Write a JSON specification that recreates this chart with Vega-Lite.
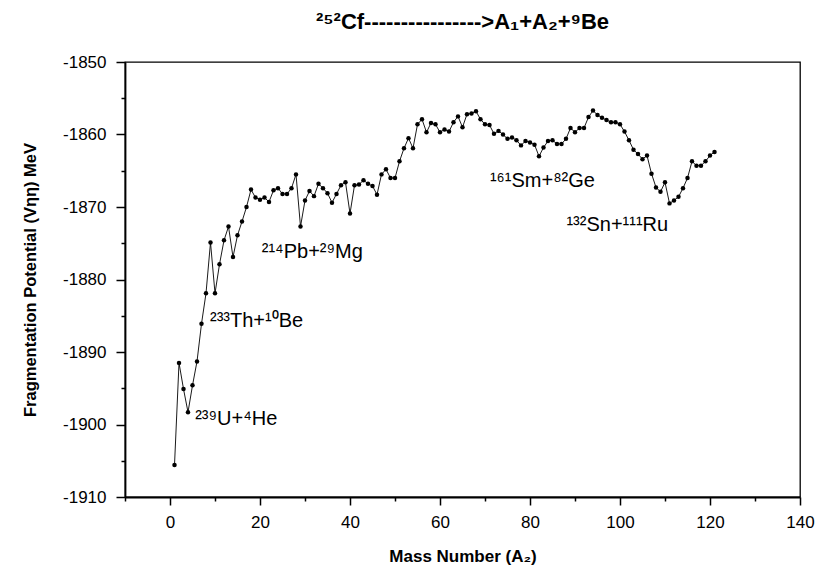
{
  "$schema": "https://vega.github.io/schema/vega-lite/v6.json",
  "autosize": {"type": "none"},
  "padding": {"left": 125, "top": 62, "right": 23, "bottom": 83},
  "width": 675,
  "height": 435,
  "title": {
    "text": "²⁵²Cf---------------->A₁+A₂+⁹Be",
    "fontSize": 22,
    "fontWeight": "bold",
    "anchor": "middle",
    "offset": 19,
    "color": "black"
  },
  "datasets": {
    "potential": [
      {"A": 1, "V": -1905.6}, {"A": 2, "V": -1891.5}, {"A": 3, "V": -1895.1}, {"A": 4, "V": -1898.3},
      {"A": 5, "V": -1894.6}, {"A": 6, "V": -1891.3}, {"A": 7, "V": -1886.1}, {"A": 8, "V": -1881.9},
      {"A": 9, "V": -1874.9}, {"A": 10, "V": -1881.9}, {"A": 11, "V": -1877.9}, {"A": 12, "V": -1874.6},
      {"A": 13, "V": -1872.7}, {"A": 14, "V": -1876.9}, {"A": 15, "V": -1873.9}, {"A": 16, "V": -1872.0},
      {"A": 17, "V": -1870.0}, {"A": 18, "V": -1867.6}, {"A": 19, "V": -1868.7}, {"A": 20, "V": -1869.0},
      {"A": 21, "V": -1868.7}, {"A": 22, "V": -1869.3}, {"A": 23, "V": -1867.7}, {"A": 24, "V": -1867.4},
      {"A": 25, "V": -1868.2}, {"A": 26, "V": -1868.2}, {"A": 27, "V": -1867.4}, {"A": 28, "V": -1865.5},
      {"A": 29, "V": -1872.7}, {"A": 30, "V": -1869.1}, {"A": 31, "V": -1867.8}, {"A": 32, "V": -1868.5},
      {"A": 33, "V": -1866.8}, {"A": 34, "V": -1867.4}, {"A": 35, "V": -1868.1}, {"A": 36, "V": -1869.4},
      {"A": 37, "V": -1868.2}, {"A": 38, "V": -1867.0}, {"A": 39, "V": -1866.6}, {"A": 40, "V": -1870.9},
      {"A": 41, "V": -1867.0}, {"A": 42, "V": -1866.9}, {"A": 43, "V": -1866.3}, {"A": 44, "V": -1866.8},
      {"A": 45, "V": -1867.1}, {"A": 46, "V": -1868.3}, {"A": 47, "V": -1865.5}, {"A": 48, "V": -1864.8},
      {"A": 49, "V": -1866.0}, {"A": 50, "V": -1866.0}, {"A": 51, "V": -1863.7}, {"A": 52, "V": -1861.9},
      {"A": 53, "V": -1860.5}, {"A": 54, "V": -1861.9}, {"A": 55, "V": -1858.6}, {"A": 56, "V": -1857.9},
      {"A": 57, "V": -1859.7}, {"A": 58, "V": -1858.4}, {"A": 59, "V": -1858.6}, {"A": 60, "V": -1859.7},
      {"A": 61, "V": -1859.3}, {"A": 62, "V": -1859.6}, {"A": 63, "V": -1858.3}, {"A": 64, "V": -1857.5},
      {"A": 65, "V": -1859.0}, {"A": 66, "V": -1857.2}, {"A": 67, "V": -1857.1}, {"A": 68, "V": -1856.8},
      {"A": 69, "V": -1857.9}, {"A": 70, "V": -1858.6}, {"A": 71, "V": -1858.7}, {"A": 72, "V": -1859.9},
      {"A": 73, "V": -1859.5}, {"A": 74, "V": -1860.0}, {"A": 75, "V": -1860.6}, {"A": 76, "V": -1860.4},
      {"A": 77, "V": -1860.8}, {"A": 78, "V": -1861.5}, {"A": 79, "V": -1860.9}, {"A": 80, "V": -1861.1},
      {"A": 81, "V": -1861.4}, {"A": 82, "V": -1863.0}, {"A": 83, "V": -1861.8}, {"A": 84, "V": -1860.9},
      {"A": 85, "V": -1860.8}, {"A": 86, "V": -1861.3}, {"A": 87, "V": -1861.3}, {"A": 88, "V": -1860.6},
      {"A": 89, "V": -1859.1}, {"A": 90, "V": -1859.7}, {"A": 91, "V": -1859.1}, {"A": 92, "V": -1859.1},
      {"A": 93, "V": -1857.6}, {"A": 94, "V": -1856.7}, {"A": 95, "V": -1857.3}, {"A": 96, "V": -1857.7},
      {"A": 97, "V": -1858.0}, {"A": 98, "V": -1858.3}, {"A": 99, "V": -1858.3}, {"A": 100, "V": -1858.6},
      {"A": 101, "V": -1859.6}, {"A": 102, "V": -1860.8}, {"A": 103, "V": -1862.1}, {"A": 104, "V": -1862.7},
      {"A": 105, "V": -1863.4}, {"A": 106, "V": -1862.9}, {"A": 107, "V": -1865.4}, {"A": 108, "V": -1867.3},
      {"A": 109, "V": -1867.9}, {"A": 110, "V": -1866.6}, {"A": 111, "V": -1869.5}, {"A": 112, "V": -1869.1},
      {"A": 113, "V": -1868.6}, {"A": 114, "V": -1867.4}, {"A": 115, "V": -1866.0}, {"A": 116, "V": -1863.7},
      {"A": 117, "V": -1864.3}, {"A": 118, "V": -1864.3}, {"A": 119, "V": -1863.7}, {"A": 120, "V": -1862.9},
      {"A": 121, "V": -1862.4}
    ],
    "pairs": [
      {"pair": "²³⁹U+⁴He", "A": 5.6, "V": -1900.1},
      {"pair": "²³³Th+¹⁰Be", "A": 8.9, "V": -1886.5},
      {"pair": "²¹⁴Pb+²⁹Mg", "A": 20.4, "V": -1877.0},
      {"pair": "¹⁶¹Sm+⁸²Ge", "A": 71.1, "V": -1867.2},
      {"pair": "¹³²Sn+¹¹¹Ru", "A": 88.1, "V": -1873.3}
    ]
  },
  "layer": [
    {
      "data": {"name": "potential"},
      "mark": {"type": "line", "color": "black", "strokeWidth": 0.9},
      "encoding": {
        "x": {
          "field": "A", "type": "quantitative",
          "scale": {"domain": [-10, 140], "nice": false, "zero": false},
          "axis": {
            "orient": "bottom",
            "values": [0, 20, 40, 60, 80, 100, 120, 140],
            "labelExpr": "'' + datum.value",
            "title": "Mass Number (A₂)",
            "titleFontSize": 17, "titleFontWeight": "bold", "titlePadding": 18,
            "labelFontSize": 17, "labelPadding": 9, "tickSize": 8,
            "labelFlush": false
          }
        },
        "y": {
          "field": "V", "type": "quantitative",
          "scale": {"domain": [-1910, -1850], "nice": false, "zero": false},
          "axis": {
            "orient": "left",
            "values": [-1910, -1900, -1890, -1880, -1870, -1860, -1850],
            "labelExpr": "'' + datum.value",
            "title": "Fragmentation Potential (Vηη) MeV",
            "titleFontSize": 16.5, "titleFontWeight": "bold", "titlePadding": 24,
            "labelFontSize": 17, "labelPadding": 10, "tickSize": 9,
            "labelFlush": false
          }
        }
      }
    },
    {
      "data": {"name": "potential"},
      "mark": {"type": "circle", "color": "black", "size": 20, "opacity": 1},
      "encoding": {
        "x": {
          "field": "A", "type": "quantitative",
          "axis": {
            "orient": "bottom",
            "values": [-10, 10, 30, 50, 70, 90, 110, 130],
            "labels": false, "domain": false, "title": null, "tickSize": 4
          }
        },
        "y": {
          "field": "V", "type": "quantitative",
          "axis": {
            "orient": "left",
            "values": [-1905, -1895, -1885, -1875, -1865, -1855],
            "labels": false, "domain": false, "title": null, "tickSize": 4
          }
        }
      }
    },
    {
      "data": {"name": "pairs"},
      "mark": {"type": "text", "align": "left", "baseline": "alphabetic", "fontSize": 20, "color": "black"},
      "encoding": {
        "x": {"field": "A", "type": "quantitative", "axis": null},
        "y": {"field": "V", "type": "quantitative", "axis": null},
        "text": {"field": "pair"}
      }
    }
  ],
  "resolve": {"axis": {"x": "independent", "y": "independent"}},
  "config": {
    "font": "Liberation Sans",
    "view": {"stroke": "black", "strokeWidth": 1.3},
    "axis": {
      "grid": false,
      "domainColor": "black", "domainWidth": 1.8,
      "tickColor": "black", "tickWidth": 1.5,
      "labelColor": "black", "titleColor": "black",
      "labelFont": "Liberation Sans", "titleFont": "Liberation Sans"
    }
  }
}
